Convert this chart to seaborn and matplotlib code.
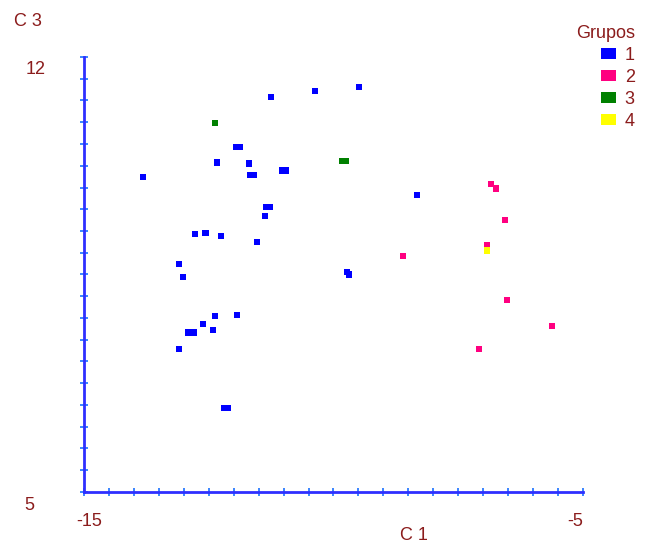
import numpy as np
import pandas as pd
import matplotlib
matplotlib.use("Agg")
import matplotlib.pyplot as plt
from matplotlib.patches import Patch
import seaborn as sns

# values
g1_x = [-13.82, -11.25, -10.37, -9.49, -11.95, -11.87, -12.33, -11.69, -11.66, -11.60,
        -11.02, -10.96, -11.34, -11.28, -11.37, -12.78, -12.56, -12.25, -11.53, -13.10,
        -13.02, -9.73, -9.69, -8.33, -12.37, -11.93, -12.62, -12.92, -12.80, -12.41,
        -13.10, -12.18, -12.12]
g1_y = [10.07, 11.36, 11.45, 11.52, 10.55, 10.55, 10.30, 10.29, 10.10, 10.10,
        10.17, 10.17, 9.59, 9.59, 9.44, 9.15, 9.17, 9.12, 9.02, 8.67,
        8.46, 8.54, 8.50, 9.78, 7.83, 7.85, 7.70, 7.57, 7.57, 7.61,
        7.30, 6.35, 6.35]
g2_x = [-6.84, -6.74, -6.56, -6.92, -8.61, -6.52, -5.62, -7.08]
g2_y = [9.96, 9.88, 9.38, 8.97, 8.80, 8.09, 7.67, 7.30]
g3_x = [-12.37, -9.82, -9.76]
g3_y = [10.94, 10.33, 10.33]
g4_x = [-6.92]
g4_y = [8.89]

groups = ["1", "2", "3", "4"]
colors = {"1": "#0000ff", "2": "#ff0080", "3": "#008000", "4": "#ffff00"}

df = pd.DataFrame({
    "C1": g1_x + g2_x + g3_x + g4_x,
    "C3": g1_y + g2_y + g3_y + g4_y,
    "Grupos": ["1"] * len(g1_x) + ["2"] * len(g2_x) + ["3"] * len(g3_x) + ["4"] * len(g4_x),
})

W, H = 648, 546
fig = plt.figure(figsize=(W / 100, H / 100), dpi=100)
ax = fig.add_axes([84 / W, 1 - 492 / H, (583 - 84) / W, (492 - 57) / H])
sns.scatterplot(data=df, x="C1", y="C3", hue="Grupos", palette=colors, hue_order=groups,
                marker="s", s=22, linewidth=0, legend=False, ax=ax, clip_on=False)

ax.set_xlim(-15, -5)
ax.set_ylim(5, 12)
ax.set_xticks(np.linspace(-15, -5, 21))
ax.set_yticks(np.linspace(5, 12, 21))
ax.tick_params(direction="inout", length=6, width=1.4, color="#3a85ff",
               labelbottom=False, labelleft=False)
for side in ["top", "right"]:
    ax.spines[side].set_visible(False)
for side in ["left", "bottom"]:
    ax.spines[side].set_color("#2f2fff")
    ax.spines[side].set_linewidth(2)
ax.set_xlabel("")
ax.set_ylabel("")

red = "#8b1c1c"
font = "Liberation Sans"


def label(px, py, s):
    fig.text(px / W, 1 - py / H, s, color=red, fontsize=13, family=font,
             ha="center", va="center")


label(28, 22, "C 3")
label(36, 70, "12")
label(29, 506, "5")
label(89, 522, "-15")
label(575, 522, "-5")
label(414, 535, "C 1")

handles = [Patch(facecolor=colors[g], edgecolor="none") for g in groups]
leg = fig.legend(handles, groups, title="Grupos", loc="upper right",
                 bbox_to_anchor=(642 / W, 1 - 18 / H), frameon=False,
                 handletextpad=0.5, labelspacing=0.27, handlelength=0.8,
                 handleheight=0.6, borderaxespad=0, alignment="right",
                 prop={"family": font, "size": 13})
leg.get_title().set_color(red)
leg.get_title().set_fontfamily(font)
leg.get_title().set_fontsize(13)
for t in leg.get_texts():
    t.set_color(red)

fig.savefig("out.png", dpi=100)
